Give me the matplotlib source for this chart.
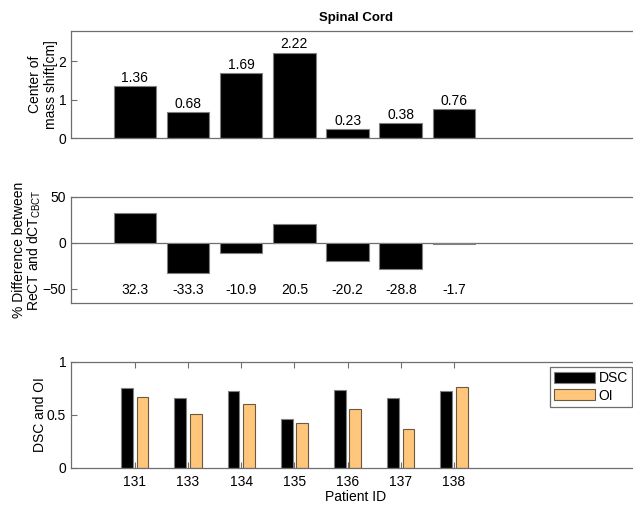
import numpy as np
import matplotlib
matplotlib.use("Agg")
import matplotlib.pyplot as plt

plt.rcParams['font.family'] = ['Liberation Sans', 'DejaVu Sans']
plt.rcParams['font.size'] = 10

# data
patients = ['131', '133', '134', '135', '136', '137', '138']
com_shift = [1.36, 0.68, 1.69, 2.22, 0.23, 0.38, 0.76]
pct_diff = [32.3, -33.3, -10.9, 20.5, -20.2, -28.8, -1.7]
dsc = [0.755, 0.66, 0.727, 0.458, 0.737, 0.661, 0.724]
oi = [0.665, 0.51, 0.605, 0.42, 0.552, 0.367, 0.765]

spine_col = '#6e6e6e'
orange = '#FFC67C'
x = np.arange(1, len(patients) + 1)

fig = plt.figure(figsize=(6.33, 5.05), dpi=100)
ax1 = fig.add_axes([0.1122, 0.7267, 0.899, 0.2119])
ax2 = fig.add_axes([0.1122, 0.3994, 0.899, 0.2111])
ax3 = fig.add_axes([0.1122, 0.0733, 0.899, 0.2105])


def style(ax):
    for s in ax.spines.values():
        s.set_color(spine_col)
        s.set_linewidth(0.9)
    ax.tick_params(direction='in', color=spine_col, length=4, labelsize=10)
    ax.set_xlim(-0.2, 10.5)


# top: center of mass shift
style(ax1)
ax1.bar(x, com_shift, width=0.8, color='black', edgecolor='#808080', linewidth=0.8)
for xi, v in zip(x, com_shift):
    ax1.text(xi, v + 0.03, f'{v:.2f}', ha='center', va='bottom', fontsize=10)
ax1.set_ylim(0, 2.78)
ax1.set_yticks([0, 1, 2])
ax1.set_xticks([])
ax1.set_ylabel('Center of\nmass shift[cm]', fontsize=10, labelpad=0)
ax1.set_title('Spinal Cord', fontsize=9.5, fontweight='bold', pad=7)

# middle: % difference
style(ax2)
ax2.axhline(0, color=spine_col, linewidth=0.9, zorder=0)
ax2.bar(x, pct_diff, width=0.8, color='black', edgecolor='#808080', linewidth=0.8)
for xi, v in zip(x, pct_diff):
    ax2.text(xi, -52, f'{v:.1f}', ha='center', va='center', fontsize=10)
ax2.set_ylim(-66, 50)
ax2.set_yticks([-50, 0, 50])
ax2.set_xticks([])
ax2.set_ylabel('% Difference between\nReCT and dCT$_{\\mathregular{CBCT}}$', fontsize=10,
               labelpad=0, linespacing=0.95)

# bottom: DSC and OI
style(ax3)
ax3.tick_params(axis='x', top=True, pad=5)
ax3.bar(x - 0.145, dsc, width=0.22, color='black', edgecolor='#808080', linewidth=0.8, label='DSC')
ax3.bar(x + 0.145, oi, width=0.22, color=orange, edgecolor='#6b5a40', linewidth=0.8, label='OI')
ax3.set_ylim(0, 1)
ax3.set_yticks([0, 0.5, 1])
ax3.set_yticklabels(['0', '0.5', '1'])
ax3.set_xticks(x)
ax3.set_xticklabels(patients)
ax3.set_xlabel('Patient ID', fontsize=10, labelpad=1)
ax3.set_ylabel('DSC and OI', fontsize=10, labelpad=0)
leg = ax3.legend(loc='upper left', bbox_to_anchor=(0.842, 0.95), fancybox=False,
                 edgecolor=spine_col, handlelength=2.9, handleheight=0.85,
                 handletextpad=0.3, borderpad=0.3, borderaxespad=0,
                 labelspacing=0.25, fontsize=10, framealpha=1)
leg.get_frame().set_linewidth(0.9)

fig.savefig('out.png', dpi=100)
